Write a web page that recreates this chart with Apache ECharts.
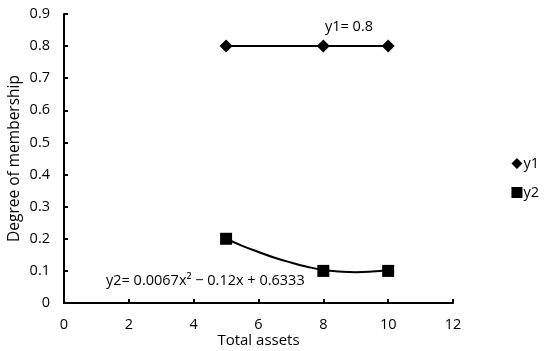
<!DOCTYPE html>
<html><head><meta charset="utf-8">
<script src="https://cdn.jsdelivr.net/npm/echarts@6/dist/echarts.min.js"></script>
<style>html,body{margin:0;padding:0;background:#fff}#c{width:550px;height:351px}</style>
</head><body><div id="c"></div>
<script>
const xValues = [5, 8, 10];
const y1Values = [0.8, 0.8, 0.8];
const y2Values = [0.2, 0.1, 0.1];
// trendline for y2
const trendX = [5, 5.5, 6, 6.5, 7, 7.5, 8, 8.5, 9, 9.5, 10];
const trendY = [0.2, 0.178, 0.159, 0.141, 0.126, 0.113, 0.103, 0.098, 0.096, 0.098, 0.103];
const xTicks = [0, 2, 4, 6, 8, 10, 12];
const yTicks = [0, 0.1, 0.2, 0.3, 0.4, 0.5, 0.6, 0.7, 0.8, 0.9];
const y1Label = 'y1= 0.8';
const y2Label = 'y2= 0.0067x\u00B2 \u2212 0.12x + 0.6333';

const font = 'Open Sans, Liberation Sans, sans-serif';
const fs = 14.5;
const chart = echarts.init(document.getElementById('c'));
chart.setOption({
  animation: false,
  textStyle: {fontFamily: font},
  grid: {left: 64, right: 97, top: 14, bottom: 48, containLabel: false, outerBoundsMode: 'none'},
  legend: {
    orient: 'vertical', right: 6, top: 151, itemGap: 14,
    itemWidth: 11, itemHeight: 11,
    textStyle: {fontFamily: font, fontSize: fs, color: '#000', padding: [0,0,0,-4]},
    data: [{name: 'y1', icon: 'diamond'}, {name: 'y2', icon: 'rect'}]
  },
  xAxis: {
    type: 'value', min: 0, max: 12, interval: 2,
    name: 'Total assets', nameLocation: 'middle', nameGap: 30, nameMoveOverlap: false,
    nameTextStyle: {fontFamily: font, fontSize: 15, color: '#000'},
    axisLine: {lineStyle: {color: '#000', width: 2}},
    axisTick: {inside: true, length: 4, lineStyle: {color: '#000', width: 2}},
    axisLabel: {color: '#000', fontSize: fs, margin: 14, fontFamily: font},
    splitLine: {show: false}
  },
  yAxis: {
    type: 'value', min: 0, max: 0.9, interval: 0.1,
    name: 'Degree of membership', nameLocation: 'middle', nameGap: 41, nameMoveOverlap: false,
    nameTextStyle: {fontFamily: font, fontSize: 15.5, color: '#000'},
    axisLine: {show: true, lineStyle: {color: '#000', width: 2}},
    axisTick: {show: true, inside: true, length: 4, lineStyle: {color: '#000', width: 2}},
    axisLabel: {color: '#000', fontSize: fs, margin: 14, fontFamily: font,
      formatter: v => String(Math.round(v * 10) / 10)},
    splitLine: {show: false}
  },
  series: [
    {
      name: 'y1', type: 'line', data: xValues.map((x, i) => [x, y1Values[i]]),
      symbol: 'diamond', symbolSize: 13, itemStyle: {color: '#000', opacity: 1},
      lineStyle: {color: '#000', width: 2}
    },
    {
      name: 'y2', type: 'scatter', data: xValues.map((x, i) => [x, y2Values[i]]),
      symbol: 'rect', symbolSize: 12, itemStyle: {color: '#000', opacity: 1}, z: 5
    },
    {
      name: 'y2 trend', type: 'line', data: trendX.map((x, i) => [x, trendY[i]]),
      smooth: true, showSymbol: false, symbol: 'none',
      lineStyle: {color: '#000', width: 2}, z: 3
    }
  ],
  graphic: [
    {type: 'text', left: 325, top: 19, style: {text: y1Label, fontFamily: font, fontSize: fs, fill: '#000'}},
    {type: 'text', left: 106, top: 273, style: {text: y2Label, fontFamily: font, fontSize: fs, fill: '#000'}}
  ]
});
</script></body></html>
